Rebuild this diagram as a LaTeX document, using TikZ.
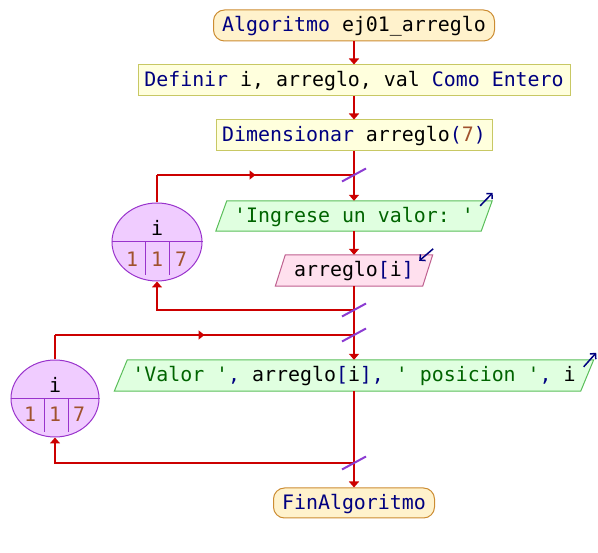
\documentclass[tikz,border=0pt]{standalone}
\usepackage{fontspec}
\setmonofont{DejaVu Sans Mono}
\usetikzlibrary{arrows.meta,calc,backgrounds,decorations.markings,shapes.geometric}
\definecolor{navy}{RGB}{0,0,128}
\definecolor{numbrown}{RGB}{160,82,45}
\definecolor{strgreen}{RGB}{0,100,0}
\definecolor{flowred}{RGB}{204,0,0}
\definecolor{slashpurple}{RGB}{140,60,210}
\definecolor{termfill}{RGB}{255,242,204}
\definecolor{termline}{RGB}{204,140,50}
\definecolor{procfill}{RGB}{255,255,221}
\definecolor{procline}{RGB}{200,200,100}
\definecolor{outfill}{RGB}{224,255,224}
\definecolor{outline}{RGB}{90,190,90}
\definecolor{infill}{RGB}{255,224,238}
\definecolor{inline}{RGB}{190,96,143}
\definecolor{ellfill}{RGB}{240,204,255}
\definecolor{ellline}{RGB}{153,51,204}
\begin{document}
\begin{tikzpicture}[x=1pt,y=-1pt,
  every node/.style={font=\fontsize{19.9}{24}\selectfont\ttfamily, inner sep=0pt, text height=14.5pt, text depth=1.5pt},
  termbox/.style={draw=termline, fill=termfill, line width=1pt, rounded corners=11pt, minimum height=31pt},
  procbox/.style={draw=procline, fill=procfill, line width=1pt, minimum height=31pt},
  iotext/.style={minimum height=31pt},
  outshape/.style={draw=outline, fill=outfill, line width=1pt},
  inshape/.style={draw=inline, fill=infill, line width=1pt},
  flowline/.style={draw=flowred, line width=2pt},
  flow/.style={flowline, -{Triangle[length=6pt,width=10pt]}},
  midarrow/.style={postaction={decorate}, decoration={markings, mark=at position 0.5 with {\arrow{Triangle[length=6pt,width=9pt]}}}},
  slashmark/.style={draw=slashpurple, line width=2pt},
  icon/.style={draw=navy, line width=1.5pt, -{Straight Barb[length=4pt,width=8pt]}},
  counter/.style={ellipse, draw=ellline, fill=ellfill, line width=1pt},
  cell/.style={draw=ellline, line width=1pt}]
\useasboundingbox (0,0) rectangle (598,553);

% main nodes
\node[termbox, minimum width=281pt] (start) at (354,25.5) {\textcolor{navy}{Algoritmo} ej01\_arreglo};
\node[procbox, minimum width=432pt] (def) at (354,80.5) {\textcolor{navy}{Definir} i, arreglo, val \textcolor{navy}{Como Entero}};
\node[procbox, minimum width=276pt] (dim) at (354,135.5) {\textcolor{navy}{Dimensionar} arreglo\textcolor{navy}{(}\textcolor{numbrown}{7}\textcolor{navy}{)}};
\node[iotext, minimum width=265pt, minimum height=30pt] (out1) at (354,216) {\textcolor{strgreen}{'Ingrese un valor: '}};
\node[iotext, minimum width=147pt] (in1) at (354,270.5) {arreglo\textcolor{navy}{[}i\textcolor{navy}{]}};
\node[iotext, minimum width=466pt] (out2) at (354,375.5) {\textcolor{strgreen}{'Valor '}\textcolor{navy}{,} arreglo\textcolor{navy}{[}i\textcolor{navy}{]}\textcolor{navy}{,} \textcolor{strgreen}{' posicion '}\textcolor{navy}{,} i};
\node[termbox, minimum width=161pt, minimum height=30pt] (end) at (354,503) {\textcolor{navy}{FinAlgoritmo}};

% parallelogram outlines
\begin{scope}[on background layer]
\draw[outshape] ($(out1.south west)+(-5.5,0)$) -- ($(out1.south east)+(-5.5,0)$) -- ($(out1.north east)+(5.5,0)$) -- ($(out1.north west)+(5.5,0)$) -- cycle;
\draw[inshape] ($(in1.south west)+(-5,0)$) -- ($(in1.south east)+(-5,0)$) -- ($(in1.north east)+(5,0)$) -- ($(in1.north west)+(5,0)$) -- cycle;
\draw[outshape] ($(out2.south west)+(-6.5,0)$) -- ($(out2.south east)+(-6.5,0)$) -- ($(out2.north east)+(6.5,0)$) -- ($(out2.north west)+(6.5,0)$) -- cycle;
\end{scope}

% io icons
\draw[icon] ($(out1.north east)+(-6.5,5)$) -- ($(out1.north east)+(6,-8)$);
\draw[icon] ($(in1.north east)+(5.5,-6)$) -- ($(in1.north east)+(-8.5,6)$);
\draw[icon] ($(out2.north east)+(-3.5,7)$) -- ($(out2.north east)+(9,-7)$);

% loop counters
\node[counter, minimum width=90pt, minimum height=78pt] (e1) at (157,242) {};
\draw[cell] (e1.west) -- (e1.east);
\draw[cell] ($(e1.center)+(-12,0)$) -- ($(e1.center)+(-12,33)$);
\draw[cell] ($(e1.center)+(12,0)$) -- ($(e1.center)+(12,33)$);
\node[anchor=base] (e1var) at (157,236) {i};
\node[anchor=base, text=numbrown] (e1a) at (132,266.5) {1};
\node[anchor=base, text=numbrown] (e1b) at (157,266.5) {1};
\node[anchor=base, text=numbrown] (e1c) at (181,266.5) {7};

\node[counter, minimum width=88pt, minimum height=77pt] (e2) at (55,398.5) {};
\draw[cell] (e2.west) -- (e2.east);
\draw[cell] ($(e2.center)+(-11,0)$) -- ($(e2.center)+(-11,34)$);
\draw[cell] ($(e2.center)+(13,0)$) -- ($(e2.center)+(13,34)$);
\node[anchor=base] (e2var) at (55,393) {i};
\node[anchor=base, text=numbrown] (e2a) at (30,422) {1};
\node[anchor=base, text=numbrown] (e2b) at (55,422) {1};
\node[anchor=base, text=numbrown] (e2c) at (79,422) {7};

% junctions
\coordinate (j1) at (354,175);
\coordinate (j2) at (354,310);
\coordinate (j3) at (354,335);
\coordinate (j4) at (354,463);

% main flow
\draw[flow] (start) -- (def);
\draw[flow] (def) -- (dim);
\draw[flowline] (dim) -- (j1);
\draw[flow] (j1) -- (out1);
\draw[flow] (out1) -- (in1);
\draw[flowline] (in1) -- (j2);
\draw[flowline] (j2) -- (j3);
\draw[flow] (j3) -- (out2);
\draw[flowline] (out2) -- (j4);
\draw[flow] (j4) -- (end);

% loop 1
\draw[flowline] (e1) -- (e1 |- j1);
\draw[flowline, midarrow] (e1 |- j1) -- (j1);
\draw[flow] (j2) -| (e1);
% loop 2
\draw[flowline] (e2) -- (e2 |- j3);
\draw[flowline, midarrow] (e2 |- j3) -- (j3);
\draw[flow] (j4) -| (e2);

% slash marks
\foreach \j in {j1,j2,j3,j4}
  \draw[slashmark] ($(\j)+(-12,6.5)$) -- ($(\j)+(12,-6.5)$);
\end{tikzpicture}
\end{document}
